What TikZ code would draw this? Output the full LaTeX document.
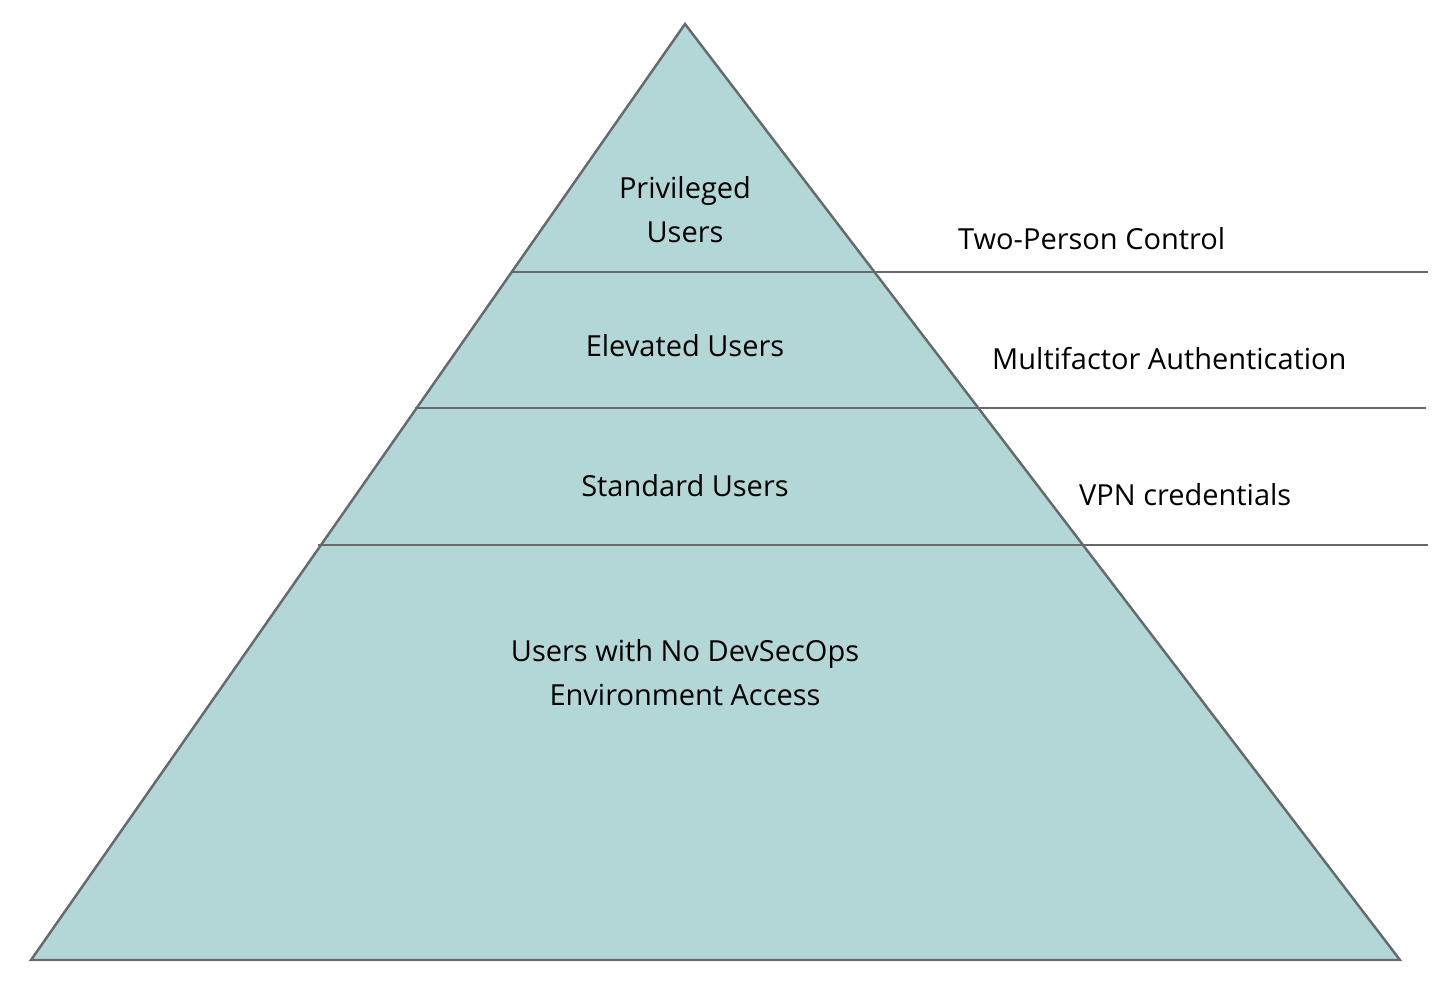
\documentclass[tikz,border=0pt]{standalone}
\usepackage{fontspec}
\setmainfont{Open Sans}
\definecolor{tierfill}{HTML}{B3D6D6}
\definecolor{tierline}{HTML}{666A6C}
\tikzset{
  tier/.style={align=center, font=\fontsize{16.5}{25}\selectfont},
  ctrl/.style={anchor=west, font=\fontsize{16.5}{25}\selectfont},
  sep/.style={draw=tierline, line width=1.2pt}
}
\begin{document}
\begin{tikzpicture}[x=0.02cm, y=-0.02cm]
  \useasboundingbox (0,0) rectangle (1454,994);
  % Pyramide
  \coordinate (top) at (685,24);
  \coordinate (bl) at (31,960);
  \coordinate (br) at (1400,960);
  \filldraw[fill=tierfill, draw=tierline, line width=1.4pt] (top) -- (br) -- (bl) -- cycle;

  % Trennlinien
  \coordinate (l1) at (512,272);  \coordinate (r1) at (1428,272);
  \coordinate (l2) at (415,408);  \coordinate (r2) at (1426,408);
  \coordinate (l3) at (318,545);  \coordinate (r3) at (1428,545);
  \draw[sep] (l1) -- (r1);
  \draw[sep] (l2) -- (r2);
  \draw[sep] (l3) -- (r3);

  % Stufen
  \node[tier] (priv) at (685,210) {Privileged\\Users};
  \node[tier] (elev) at (685,346) {Elevated Users};
  \node[tier] (std) at (685,486) {Standard Users};
  \node[tier] (none) at (685,673) {Users with No DevSecOps\\Environment Access};

  % Kontrollen
  \node[ctrl] (twop) at (952,239) {Two-Person Control};
  \node[ctrl] (mfa) at (986,359) {Multifactor Authentication};
  \node[ctrl] (vpn) at (1073,495) {VPN credentials};
\end{tikzpicture}
\end{document}
